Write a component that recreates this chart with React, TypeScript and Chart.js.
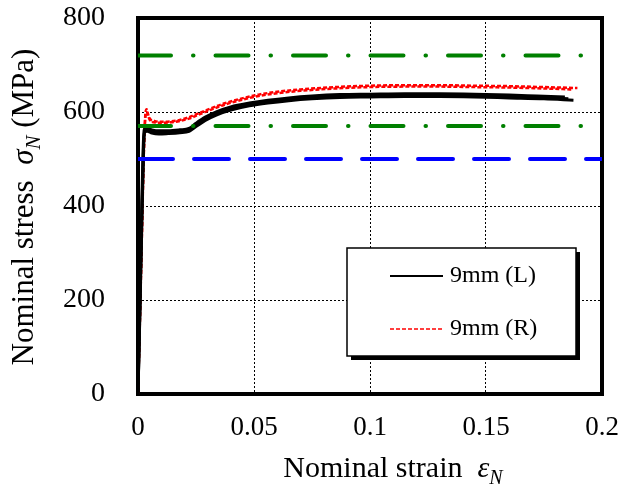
import { useEffect, useRef } from 'react';
import { Chart, registerables } from 'chart.js';
Chart.register(...registerables);

// ---- axis ticks ----
const xTickValues = [0, 0.05, 0.1, 0.15, 0.2];
const xTickLabels = ['0', '0.05', '0.1', '0.15', '0.2'];
const yTickValues = [0, 200, 400, 600, 800];
const yTickLabels = ['0', '200', '400', '600', '800'];

// ---- 9mm (L) specimens (black) ----
const blackStrainA = [0, 0.0008, 0.0016, 0.0024, 0.003, 0.004, 0.006, 0.009, 0.013, 0.018, 0.022, 0.025, 0.029, 0.034, 0.04, 0.048, 0.056, 0.065, 0.075, 0.087, 0.1, 0.115, 0.13, 0.145, 0.16, 0.172, 0.1855];
const blackStressA = [0, 180, 370, 530, 562, 563, 559, 557, 557, 559, 562, 572, 585, 597, 607, 616, 622, 627, 631, 634, 635, 636, 636, 635, 633, 631, 628];
const blackStrainB = [0, 0.0008, 0.0016, 0.0024, 0.003, 0.004, 0.006, 0.009, 0.013, 0.018, 0.022, 0.025, 0.029, 0.034, 0.04, 0.048, 0.056, 0.065, 0.075, 0.087, 0.1, 0.115, 0.13, 0.145, 0.16, 0.172, 0.184];
const blackStressB = [0, 190, 390, 545, 565, 565, 562, 560, 560, 562, 565, 576, 589, 601, 611, 619, 625, 630, 634, 637, 638, 639, 639, 638, 636, 634, 632];
const blackStrainC = [0, 0.0008, 0.0016, 0.0024, 0.003, 0.004, 0.006, 0.009, 0.013, 0.018, 0.022, 0.025, 0.029, 0.034, 0.04, 0.048, 0.056, 0.065, 0.075, 0.087, 0.1, 0.115, 0.13, 0.145, 0.16, 0.175, 0.1877];
const blackStressC = [0, 170, 350, 520, 558, 559, 555, 553, 554, 556, 559, 569, 582, 594, 604, 613, 619, 624, 628, 631, 632, 633, 633, 632, 630, 628, 625];

// ---- 9mm (R) specimens (red) ----
const redStrainA = [0, 0.0008, 0.0016, 0.0024, 0.0031, 0.0037, 0.0043, 0.0052, 0.007, 0.01, 0.014, 0.018, 0.022, 0.026, 0.031, 0.037, 0.044, 0.052, 0.06, 0.07, 0.085, 0.1, 0.115, 0.13, 0.145, 0.16, 0.175, 0.1894];
const redStressA = [0, 160, 330, 500, 590, 606, 596, 585, 581, 579, 580, 583, 589, 597, 607, 618, 628, 637, 643, 648, 653, 656, 657, 657, 656, 655, 653, 651];
const redStrainB = [0, 0.0008, 0.0016, 0.0024, 0.0031, 0.0037, 0.0043, 0.0052, 0.007, 0.01, 0.014, 0.018, 0.022, 0.026, 0.031, 0.037, 0.044, 0.052, 0.06, 0.07, 0.085, 0.1, 0.115, 0.13, 0.145, 0.16, 0.175, 0.187];
const redStressB = [0, 150, 320, 490, 585, 600, 592, 582, 578, 577, 578, 581, 586, 594, 604, 615, 625, 634, 640, 645, 650, 653, 654, 654, 653, 652, 650, 648];

// ---- reference levels (MPa) ----
const upperGreenLevel = 720;
const lowerGreenLevel = 570;
const blueLevel = 500;
const levelStrainSpan = [0, 0.2];

const legendLabels = ['9mm (L)', '9mm (R)'];

const SERIF = '"Liberation Serif", "Times New Roman", serif';

const pts = (xs: number[], ys: number[]) => xs.map((x, i) => ({ x, y: ys[i] }));
const level = (v: number) => levelStrainSpan.map((x) => ({ x, y: v }));

export default function App() {
  const ref = useRef<HTMLCanvasElement | null>(null);

  useEffect(() => {
    document.body.style.margin = '0';
    const canvas = ref.current!;
    const blackStyle = { borderColor: '#000000', borderWidth: 3, pointRadius: 0, cubicInterpolationMode: 'monotone' as const, fill: false };
    const redStyle = { borderColor: '#ff0000', borderWidth: 2.5, borderDash: [4, 2], pointRadius: 0, cubicInterpolationMode: 'monotone' as const, fill: false };

    const frame = {
      id: 'frame',
      beforeDatasetsDraw(chart: any) {
        const { ctx, chartArea: a } = chart;
        ctx.save();
        ctx.strokeStyle = '#000';
        ctx.lineWidth = 4;
        ctx.strokeRect(a.left, a.top, a.right - a.left, a.bottom - a.top);
        ctx.restore();
      },
    };

    const drawTitle = (ctx: CanvasRenderingContext2D, size: number, main: string, sym: string, sub: string, tail: string) => {
      const big = `${size}px ${SERIF}`;
      const it = `italic ${size}px ${SERIF}`;
      const small = `italic ${Math.round(size * 0.68)}px ${SERIF}`;
      ctx.font = big; const w1 = ctx.measureText(main).width;
      ctx.font = it; const w2 = ctx.measureText(sym).width;
      ctx.font = small; const w3 = ctx.measureText(sub).width;
      ctx.font = big; const w4 = ctx.measureText(tail).width;
      const total = w1 + w2 + w3 + w4;
      let x = -total / 2;
      ctx.textBaseline = 'alphabetic';
      ctx.textAlign = 'left';
      ctx.fillStyle = '#000';
      ctx.font = big; ctx.fillText(main, x, 0); x += w1;
      ctx.font = it; ctx.fillText(sym, x, 0); x += w2;
      ctx.font = small; ctx.fillText(sub, x, Math.round(size * 0.22)); x += w3;
      ctx.font = big; ctx.fillText(tail, x, 0);
    };

    const overlay = {
      id: 'overlay',
      afterDraw(chart: any) {
        const { ctx, chartArea: a } = chart;
        ctx.save();
        // x title
        ctx.save();
        ctx.translate((a.left + a.right) / 2 + 23, 477);
        drawTitle(ctx, 30, 'Nominal strain  ', 'ε', 'N', '');
        ctx.restore();
        // y title
        ctx.save();
        ctx.translate(33, (a.top + a.bottom) / 2 + 1);
        ctx.rotate(-Math.PI / 2);
        drawTitle(ctx, 31, 'Nominal stress  ', 'σ', 'N', ' (MPa)');
        ctx.restore();

        // legend box
        const bx = 347, by = 248, bw = 229, bh = 108;
        ctx.fillStyle = '#000';
        ctx.fillRect(bx + 4, by + 4, bw, bh);
        ctx.fillStyle = '#fff';
        ctx.fillRect(bx, by, bw, bh);
        ctx.strokeStyle = '#000';
        ctx.lineWidth = 1.5;
        ctx.strokeRect(bx, by, bw, bh);
        const rows = [
          { label: legendLabels[0], color: '#000000', dash: [] as number[], y: by + 28 },
          { label: legendLabels[1], color: '#ff0000', dash: [4, 2], y: by + 81 },
        ];
        rows.forEach((r) => {
          ctx.beginPath();
          ctx.setLineDash(r.dash);
          ctx.strokeStyle = r.color;
          ctx.lineWidth = r.dash.length ? 1.5 : 2;
          ctx.moveTo(bx + 43, r.y);
          ctx.lineTo(bx + 96, r.y);
          ctx.stroke();
          ctx.setLineDash([]);
          ctx.fillStyle = '#000';
          ctx.font = `24px ${SERIF}`;
          ctx.textAlign = 'left';
          ctx.textBaseline = 'middle';
          ctx.fillText(r.label, bx + 103, r.y);
        });
        ctx.restore();
      },
    };

    const chart = new Chart(canvas, {
      type: 'line',
      data: {
        datasets: [
          { label: 'upper', data: level(upperGreenLevel), borderColor: '#008000', borderWidth: 4, borderCapStyle: 'round', borderDash: [33, 22, 0.5, 22], pointRadius: 0, fill: false },
          { label: 'lower', data: level(lowerGreenLevel), borderColor: '#008000', borderWidth: 4, borderCapStyle: 'round', borderDash: [33, 22, 0.5, 22], pointRadius: 0, fill: false },
          { label: 'blue', data: level(blueLevel), borderColor: '#0000ff', borderWidth: 4, borderCapStyle: 'round', borderDash: [35, 21], pointRadius: 0, fill: false },
          { label: legendLabels[0], data: pts(blackStrainA, blackStressA), ...blackStyle },
          { label: legendLabels[0], data: pts(blackStrainB, blackStressB), ...blackStyle },
          { label: legendLabels[0], data: pts(blackStrainC, blackStressC), ...blackStyle },
          { label: legendLabels[1], data: pts(redStrainA, redStressA), ...redStyle },
          { label: legendLabels[1], data: pts(redStrainB, redStressB), ...redStyle },
        ] as any,
      },
      options: {
        animation: false,
        responsive: false,
        devicePixelRatio: 1,
        layout: { padding: { top: 18, right: 33, left: 0, bottom: 0 } },
        plugins: { legend: { display: false }, tooltip: { enabled: false } },
        scales: {
          x: {
            type: 'linear',
            min: 0,
            max: 0.2,
            afterBuildTicks: (s: any) => { s.ticks = xTickValues.map((v) => ({ value: v })); },
            afterFit: (s: any) => { s.height = 99; s.paddingLeft = 0; s.paddingRight = 0; },
            ticks: {
              color: '#000',
              padding: 18,
              font: { family: SERIF, size: 27 },
              maxRotation: 0,
              callback: (v: any) => { const i = xTickValues.findIndex((t) => Math.abs(t - Number(v)) < 1e-9); return i >= 0 ? xTickLabels[i] : ''; },
            },
            grid: { color: '#000', lineWidth: 1, drawTicks: false },
            border: { display: false, dash: [2, 2] },
          },
          y: {
            type: 'linear',
            min: 0,
            max: 800,
            afterBuildTicks: (s: any) => { s.ticks = yTickValues.map((v) => ({ value: v })); },
            afterFit: (s: any) => { s.width = 138; s.paddingTop = 0; s.paddingBottom = 0; },
            ticks: {
              color: '#000',
              padding: 33,
              font: { family: SERIF, size: 28 },
              callback: (v: any) => { const i = yTickValues.indexOf(Number(v)); return i >= 0 ? yTickLabels[i] : ''; },
            },
            grid: { color: '#000', lineWidth: 1, drawTicks: false },
            border: { display: false, dash: [2, 2] },
          },
        },
      } as any,
      plugins: [frame, overlay],
    });
    return () => chart.destroy();
  }, []);

  return (
    <div style={{ width: 635, height: 493 }}>
      <style>{'body{margin:0}'}</style>
      <canvas ref={ref} width={635} height={493} style={{ display: 'block', width: 635, height: 493 }} />
    </div>
  );
}
